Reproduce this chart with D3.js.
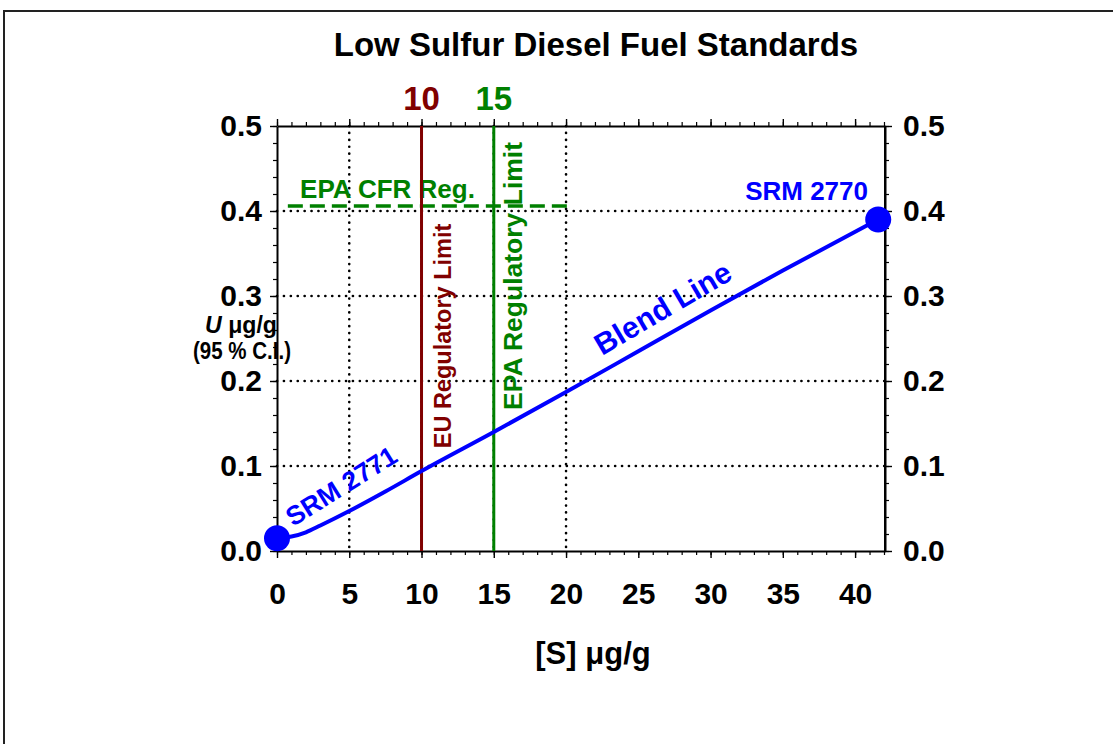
<!DOCTYPE html>
<html>
<head>
<meta charset="utf-8">
<script src="https://cdn.jsdelivr.net/npm/d3@7"></script>
<style>
  body { margin: 0; background: #fff; }
  text { font-family: "Liberation Sans", Arial, sans-serif; font-weight: bold; }
</style>
</head>
<body>
<div id="chart"></div>
<script>
// blend line
let blendX = [0, 1, 2, 3, 5, 7.5, 10, 15, 20, 25, 30, 35, 41.6];
let blendU = [0.015, 0.017, 0.022, 0.030, 0.047, 0.070, 0.094, 0.140, 0.187, 0.235, 0.283, 0.330, 0.390];
let endPoints = [{name: "SRM 2771", x: 0, u: 0.015}, {name: "SRM 2770", x: 41.6, u: 0.390}];
let xTicks = [0, 5, 10, 15, 20, 25, 30, 35, 40];
let yTicks = [0.0, 0.1, 0.2, 0.3, 0.4, 0.5];
let xGrid = [5, 10, 15, 20];
let yGrid = [0.1, 0.2, 0.3, 0.4];
let limits = [{label: "10", x: 10, text: "EU Regulatory Limit", color: "#800000"},
              {label: "15", x: 15, text: "EPA Regulatory Limit", color: "#008000"}];
let cfrLevel = 0.406, cfrFrom = 0.75, cfrTo = 20.3;

let W = 1113, H = 744;
let margin = {top: 126, left: 277},
    width = 608, height = 425;

let svg = d3.select("#chart").append("svg")
            .attr("width", W).attr("height", H);

// frame
svg.append("path").attr("d", "M4,744 L4,11 L1113,11")
   .attr("fill", "none").attr("stroke", "#222").attr("stroke-width", 2);

svg.append("text").attr("x", 596).attr("y", 56).attr("text-anchor", "middle")
   .attr("font-size", 33).text("Low Sulfur Diesel Fuel Standards");

let g = svg.append("g").attr("transform", "translate(" + margin.left + "," + margin.top + ")");

let x = d3.scaleLinear().domain([0, 42.07]).range([0, width]);
let y = d3.scaleLinear().domain([0, 0.5]).range([height, 0]);

// grid
g.selectAll(".gx").data(xGrid).enter().append("line")
 .attr("x1", d => x(d)).attr("x2", d => x(d)).attr("y1", 0).attr("y2", height)
 .attr("stroke", "#000").attr("stroke-width", 2.6).attr("stroke-dasharray", "0.1 6.8").attr("stroke-linecap", "round");
g.selectAll(".gy").data(yGrid).enter().append("line")
 .attr("x1", 0).attr("x2", width).attr("y1", d => y(d)).attr("y2", d => y(d))
 .attr("stroke", "#000").attr("stroke-width", 2.6).attr("stroke-dasharray", "0.1 6.8").attr("stroke-linecap", "round");

// axes: minor + major ticks
function addAxis(axisFn, scale, minor, major, transform, fmt, pad) {
  g.append("g").attr("transform", transform)
   .call(axisFn(scale).tickValues(minor).tickSize(4).tickFormat(""))
   .call(a => a.select(".domain").remove())
   .selectAll("line").attr("stroke", "#000").attr("stroke-width", 1.2);
  let ax = g.append("g").attr("transform", transform)
   .call(axisFn(scale).tickValues(major).tickSize(7).tickSizeOuter(0).tickPadding(pad)
         .tickFormat(fmt ? fmt : ""));
  ax.select(".domain").attr("stroke", "#000").attr("stroke-width", 2);
  ax.selectAll("line").attr("stroke", "#000").attr("stroke-width", 1.4);
  ax.selectAll("text").attr("font-size", 30).attr("fill", "#000")
    .style("font-family", "'Liberation Sans', Arial, sans-serif").style("font-weight", "bold");
  return ax;
}
let xMinor = d3.range(0, 43, 1), yMinor = d3.range(0, 0.501, 0.02);
addAxis(d3.axisBottom, x, xMinor, xTicks, "translate(0," + height + ")", d3.format("d"), 25);
addAxis(d3.axisTop, x, xMinor, xTicks, "translate(0,0)", null, 3);
addAxis(d3.axisLeft, y, yMinor, yTicks, "translate(0,0)", d3.format(".1f"), 8);
addAxis(d3.axisRight, y, yMinor, yTicks, "translate(" + width + ",0)", d3.format(".1f"), 11);
g.append("line").attr("x1", width).attr("x2", width).attr("y1", 0).attr("y2", height)
 .attr("stroke", "#000").attr("stroke-width", 2);

// EPA CFR dashed line
g.append("line").attr("x1", x(cfrFrom)).attr("x2", x(cfrTo)).attr("y1", y(cfrLevel)).attr("y2", y(cfrLevel))
 .attr("stroke", "#008000").attr("stroke-width", 3.5).attr("stroke-dasharray", "15 7");
g.append("text").attr("x", x(1.6)).attr("y", y(cfrLevel) - 8)
 .attr("fill", "#008000").attr("font-size", 26).text("EPA CFR Reg.");

// regulatory limits
limits.forEach(function(d) {
  g.append("line").attr("x1", x(d.x)).attr("x2", x(d.x)).attr("y1", 0).attr("y2", height)
   .attr("stroke", d.color).attr("stroke-width", 3);
  g.append("text").attr("x", x(d.x)).attr("y", -16).attr("text-anchor", "middle")
   .attr("fill", d.color).attr("font-size", 33).text(d.label);
});
g.append("text").attr("transform", "translate(" + (x(10) + 29) + "," + (336 - margin.top) + ") rotate(-90)")
 .attr("text-anchor", "middle").attr("fill", "#800000").attr("font-size", 23.5).text(limits[0].text);
g.append("text").attr("transform", "translate(" + (x(15) + 28.5) + "," + (276 - margin.top) + ") rotate(-90)")
 .attr("text-anchor", "middle").attr("fill", "#008000").attr("font-size", 26.5).text(limits[1].text);

// blend line
let blend = blendX.map((d, i) => [d, blendU[i]]);
g.append("path").datum(blend)
 .attr("d", d3.line().x(d => x(d[0])).y(d => y(d[1])).curve(d3.curveMonotoneX))
 .attr("fill", "none").attr("stroke", "#0000ff").attr("stroke-width", 4);

g.selectAll(".pt").data(endPoints).enter().append("circle")
 .attr("cx", d => x(d.x)).attr("cy", d => y(d.u)).attr("r", 13).attr("fill", "#0000ff");

g.append("text").attr("text-anchor", "end").attr("x", 868 - margin.left).attr("y", 200 - margin.top)
 .attr("fill", "#0000ff").attr("font-size", 26).text(endPoints[1].name);
g.append("text").attr("transform", "translate(" + (293 - margin.left) + "," + (527 - margin.top) + ") rotate(-32)")
 .attr("fill", "#0000ff").attr("font-size", 26.5).text(endPoints[0].name);
g.append("text").attr("transform", "translate(" + (602 - margin.left) + "," + (356 - margin.top) + ") rotate(-30.5)")
 .attr("fill", "#0000ff").attr("font-size", 30).text("Blend Line");

// axis titles
svg.append("text").attr("x", 593).attr("y", 664).attr("text-anchor", "middle")
   .attr("font-size", 31).html("[S] &#956;g/g");
let yl = svg.append("text").attr("x", 241).attr("y", 333).attr("text-anchor", "middle").attr("font-size", 23)
  .attr("textLength", 72).attr("lengthAdjust", "spacingAndGlyphs");
yl.append("tspan").attr("font-style", "italic").text("U");
yl.append("tspan").text(" \u03bcg/g");
svg.append("text").attr("x", 242).attr("y", 359).attr("text-anchor", "middle")
   .attr("font-size", 23).attr("textLength", 98).attr("lengthAdjust", "spacingAndGlyphs")
   .text("(95 % C.I.)");
</script>
</body>
</html>
